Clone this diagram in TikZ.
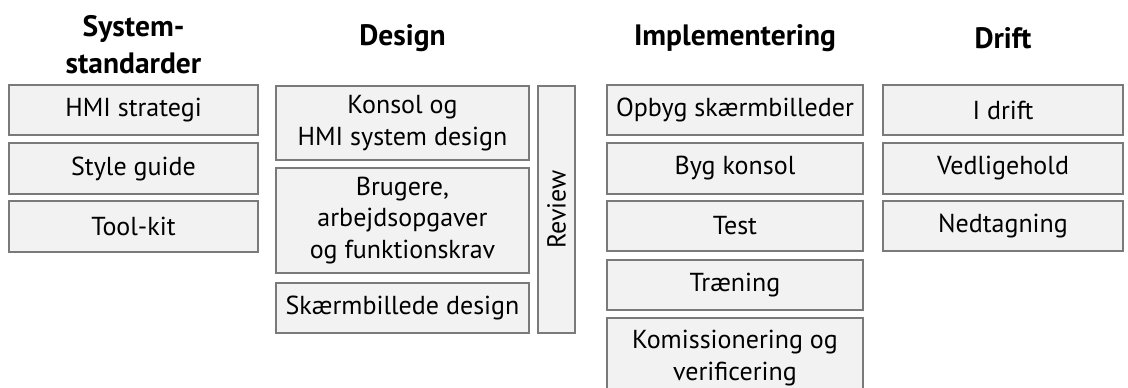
\documentclass[tikz,border=0pt]{standalone}
\usepackage{fontspec}
\setmainfont{PT Sans}
\definecolor{boxfill}{HTML}{F2F2F2}
\definecolor{boxline}{HTML}{7A7A7A}
\tikzset{ box_style/.style = { rectangle % phase step
        , draw = boxline
        , fill = boxfill
        , line width = 1.2pt
        , inner sep = 0pt
        , align = center
        , font = \fontsize{26}{31.5}\selectfont
        }
        , head_style/.style = { rectangle % phase heading
        , inner sep = 0pt
        , align = center
        , font = \fontsize{29.5}{37}\selectfont\bfseries
        }
        }

\begin{document}
\begin{tikzpicture}[x=1pt, y=-1pt,
        col1/.style={box_style,minimum width=249pt},
        col2/.style={box_style,minimum width=253pt},
        col3/.style={box_style,minimum width=256pt},
        col4/.style={box_style,minimum width=240pt}]
        \useasboundingbox (0,0) rectangle (1128,388);

        \node [head_style](h1) at (133.5,45) {System-\\standarder};
        \node [head_style](h2) at (402.5,38) {Design};
        \node [head_style](h3) at (735,38) {Implementering};
        \node [head_style](h4) at (1003,38) {Drift};

        \node [col1,minimum height=50pt](s1) at (133.5,110) {HMI strategi};
        \node [col1,minimum height=51pt](s2) at (133.5,168.5) {Style guide};
        \node [col1,minimum height=51pt](s3) at (133.5,226.5) {Tool-kit};

        \node [col2,minimum height=74pt](d1) at (402.5,123) {Konsol og\\HMI system design};
        \node [col2,minimum height=105pt](d2) at (402.5,220.5) {Brugere,\\arbejdsopgaver\\og funktionskrav};
        \node [col2,minimum height=50pt](d3) at (402.5,308) {Skærmbillede design};
        \node [box_style,minimum width=37pt,minimum height=247pt](rev) at (556.5,209.5) {\rotatebox{90}{Review}};

        \node [col3,minimum height=50pt](i1) at (735,110) {Opbyg skærmbilleder};
        \node [col3,minimum height=51pt](i2) at (735,168.5) {Byg konsol};
        \node [col3,minimum height=50pt](i3) at (735,226) {Test};
        \node [col3,minimum height=50pt](i4) at (735,285) {Træning};
        \node [col3,minimum height=80pt](i5) at (735,358) {Komissionering og\\verificering};

        \node [col4,minimum height=50pt](o1) at (1003,110) {I drift};
        \node [col4,minimum height=51pt](o2) at (1003,168.5) {Vedligehold};
        \node [col4,minimum height=50pt](o3) at (1003,226) {Nedtagning};
\end{tikzpicture}
\end{document}
